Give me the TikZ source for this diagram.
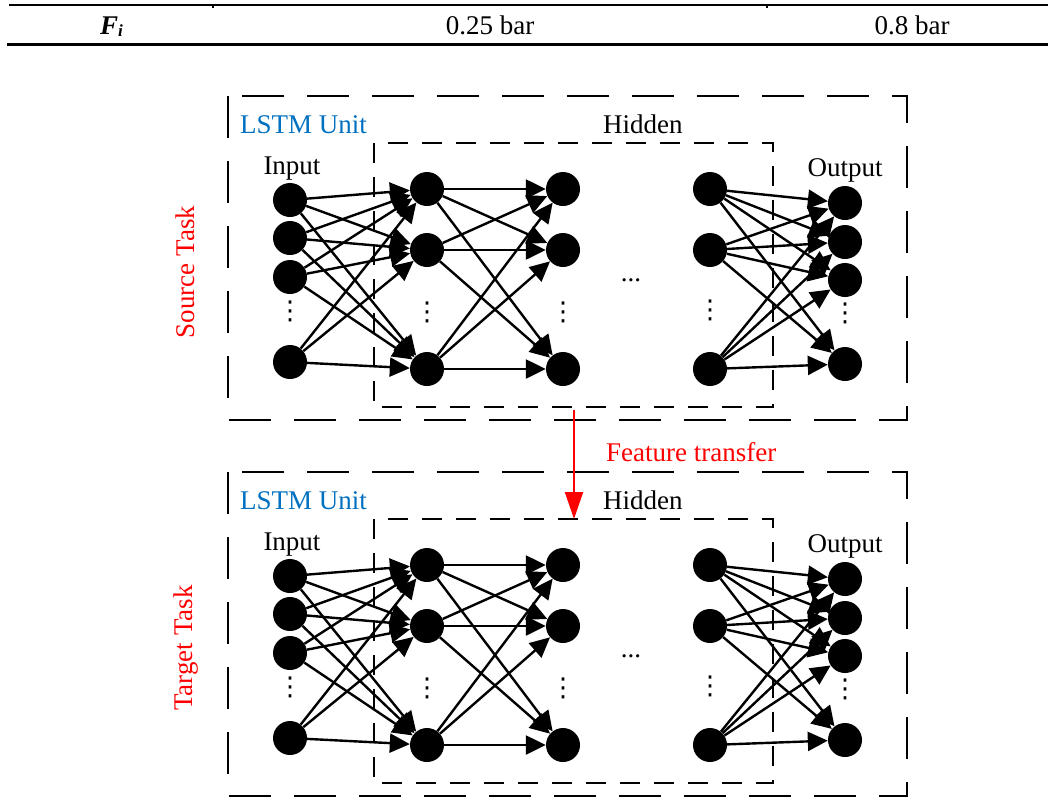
\documentclass[tikz,border=0pt]{standalone}
\usepackage{fontspec}
\setmainfont{Liberation Serif}
\newfontfamily\symfont{DejaVu Sans}
\usetikzlibrary{arrows.meta}
\definecolor{lstmblue}{HTML}{0070C0}
\begin{document}
\begin{tikzpicture}[x=1pt,y=-1pt,
  neuron/.style={circle,fill=black,inner sep=0pt,minimum size=34pt},
  link/.style={line width=2.4pt,-{Triangle[length=20pt,width=19pt]}},
  outerbox/.style={line width=2.8pt,dash pattern=on 42pt off 23pt},
  hiddenbox/.style={line width=2.2pt,dash pattern=on 20pt off 14pt},
  lbl/.style={font=\fontsize{27}{30}\selectfont,inner sep=0pt},
  dotsnode/.style={font=\symfont\fontsize{26}{28}\selectfont,inner sep=0pt},
  rule/.style={line width=2pt}
]
\useasboundingbox (0,0) rectangle (1048,801);

% table fragment
\draw[rule] (9,5) -- (1048,5);
\draw[line width=3pt] (7,44) -- (1048,44);
\draw[line width=1.5pt] (213,5) -- (213,8);
\draw[line width=1.5pt] (767,5) -- (767,8);
\node[lbl,anchor=base west] (fi) at (100,34) {\bfseries\itshape F\raisebox{-0.2ex}{\fontsize{17}{17}\selectfont i}};
\node[lbl,anchor=base] (v1) at (490,34) {0.25 bar};
\node[lbl,anchor=base] (v2) at (912,34) {0.8 bar};

\foreach \p/\dy/\tname/\tx in {s/0/Source Task/194, t/376/Target Task/192}{
  % boxes
  \draw[outerbox] (228,{96+\dy}) rectangle (907,{420+\dy});
  \draw[hiddenbox] (374,{143+\dy}) rectangle (773,{407+\dy});
  % labels
  \node[lbl,anchor=base west,text=lstmblue] (\p lstm) at (240,{133+\dy}) {LSTM Unit};
  \node[lbl,anchor=base west] (\p hid) at (603,{133+\dy}) {Hidden};
  \node[lbl,anchor=base] (\p in) at (292,{174+\dy}) {Input};
  \node[lbl,anchor=base] (\p out) at (845,{176+\dy}) {Output};
  \node[lbl,anchor=base,rotate=90,text=red] (\p task) at (\tx,{272+\dy}) {\tname};
  % neurons
  \node[neuron] (\p i1) at (290,{200+\dy}) {};
  \node[neuron] (\p i2) at (290,{238+\dy}) {};
  \node[neuron] (\p i3) at (290,{277+\dy}) {};
  \node[neuron] (\p i4) at (290,{362+\dy}) {};
  \node[neuron] (\p a1) at (427,{189+\dy}) {};
  \node[neuron] (\p a2) at (427,{250+\dy}) {};
  \node[neuron] (\p a3) at (427,{369+\dy}) {};
  \node[neuron] (\p b1) at (563,{189+\dy}) {};
  \node[neuron] (\p b2) at (563,{250+\dy}) {};
  \node[neuron] (\p b3) at (563,{369+\dy}) {};
  \node[neuron] (\p c1) at (710,{189+\dy}) {};
  \node[neuron] (\p c2) at (710,{250+\dy}) {};
  \node[neuron] (\p c3) at (710,{369+\dy}) {};
  \node[neuron] (\p o1) at (845,{203+\dy}) {};
  \node[neuron] (\p o2) at (845,{242+\dy}) {};
  \node[neuron] (\p o3) at (845,{280+\dy}) {};
  \node[neuron] (\p o4) at (845,{364+\dy}) {};
  % dots
  \node[dotsnode] (\p d1) at (290,{311+\dy}) {⋮};
  \node[dotsnode] (\p d2) at (427,{312+\dy}) {⋮};
  \node[dotsnode] (\p d3) at (563,{312+\dy}) {⋮};
  \node[dotsnode] (\p d4) at (710,{310+\dy}) {⋮};
  \node[dotsnode] (\p d5) at (845,{313+\dy}) {⋮};
  \node[lbl,anchor=base] (\p hd) at (631,{281+\dy}) {...};
  % connections
  \foreach \a in {1,2,3,4}{
    \foreach \b in {1,2,3}{
      \draw[link] (\p i\a) -- (\p a\b);
    }
  }
  \foreach \a in {1,2,3}{
    \foreach \b in {1,2,3}{
      \draw[link] (\p a\a) -- (\p b\b);
    }
  }
  \foreach \a in {1,2,3}{
    \foreach \b in {1,2,3,4}{
      \draw[link] (\p c\a) -- (\p o\b);
    }
  }
}

% feature transfer
\coordinate (ftstart) at (574,410);
\coordinate (ftend) at (574,519);
\draw[red,line width=2pt,-{Triangle[length=27pt,width=18pt]}] (ftstart) -- (ftend);
\node[lbl,anchor=base west,text=red] (ft) at (606,461) {Feature transfer};
\end{tikzpicture}
\end{document}
